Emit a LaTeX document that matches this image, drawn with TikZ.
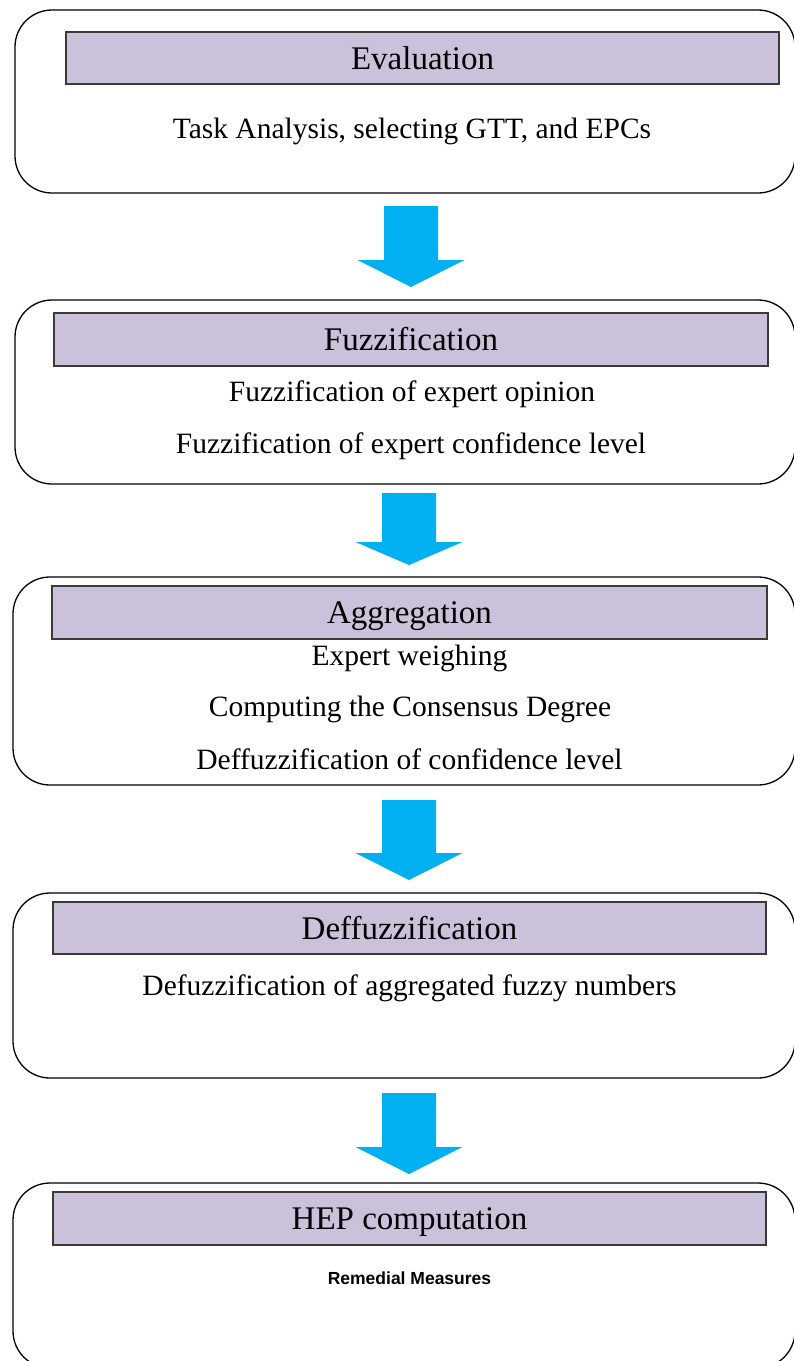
\documentclass[tikz,border=0pt]{standalone}
\usepackage{fontspec}
\setmainfont{Liberation Serif}
\newfontfamily\remfont{Liberation Sans}
\definecolor{hdrfill}{HTML}{CCC1DA}
\definecolor{arrfill}{HTML}{00B0F0}
\definecolor{hdrline}{HTML}{3A3A3A}
\newcommand\blockarr[5]{% name, center x, top, shoulder, tip
  \path[flowarrow] (#2-27,#3) coordinate (#1) -- (#2+27,#3) -- (#2+27,#4) -- (#2+53.5,#4)
    -- (#2,#5) -- (#2-53.5,#4) -- (#2-27,#4) -- cycle;}
\begin{document}
\begin{tikzpicture}[x=1pt,y=-1pt,
  outerbox/.style={draw=black,line width=1.3pt,rounded corners=37pt,fill=white,
    rectangle,inner sep=0pt},
  hdrbox/.style={draw=hdrline,line width=1.4pt,fill=hdrfill,rectangle,inner sep=0pt,
    font=\fontsize{33}{40}\selectfont,text height=22pt,text depth=0pt},
  bodytext/.style={anchor=base,inner sep=0pt,font=\fontsize{29.5}{35}\selectfont},
  remtext/.style={anchor=base,inner sep=0pt,font=\remfont\bfseries\fontsize{17.5}{20}\selectfont},
  flowarrow/.style={fill=arrfill,draw=none}]
\clip (0,0) rectangle (794,1361);
\fill[white] (0,0) rectangle (794,1361);

% Box 1
\node[outerbox,minimum width=780pt,minimum height=183pt] (b1) at (405,101.5) {};
\node[hdrbox,minimum width=713pt,minimum height=52pt] (h1) at (422.5,58) {Evaluation};
\node[bodytext] (t1) at (412,138) {Task Analysis, selecting GTT, and EPCs};

% Box 2
\node[outerbox,minimum width=780pt,minimum height=184pt] (b2) at (405,392) {};
\node[hdrbox,minimum width=714pt,minimum height=53pt] (h2) at (411,339.5) {Fuzzification};
\node[bodytext] (t2a) at (412,401) {Fuzzification of expert opinion};
\node[bodytext] (t2b) at (411,453) {Fuzzification of expert confidence level};

% Box 3
\node[outerbox,minimum width=782pt,minimum height=208pt] (b3) at (404,681) {};
\node[hdrbox,minimum width=715pt,minimum height=53pt] (h3) at (409.5,612.5) {Aggregation};
\node[bodytext] (t3a) at (409.5,665) {Expert weighing};
\node[bodytext] (t3b) at (410,716) {Computing the Consensus Degree};
\node[bodytext] (t3c) at (409.5,769) {Deffuzzification of confidence level};

% Box 4
\node[outerbox,minimum width=782pt,minimum height=185pt] (b4) at (404,985.5) {};
\node[hdrbox,minimum width=713pt,minimum height=52pt] (h4) at (409.5,928) {Deffuzzification};
\node[bodytext] (t4a) at (409.5,995) {Defuzzification of aggregated fuzzy numbers};

% Box 5
\node[outerbox,minimum width=782pt,minimum height=185pt] (b5) at (404,1275.5) {};
\node[hdrbox,minimum width=713pt,minimum height=53pt] (h5) at (409.5,1218.5) {HEP computation};
\node[remtext] (t5a) at (409.5,1284) {Remedial Measures};

% Block arrows between the boxes
\blockarr{a1}{411}{206}{260}{287}
\blockarr{a2}{409}{493}{542}{565}
\blockarr{a3}{409}{800}{853}{880}
\blockarr{a4}{409}{1093}{1147}{1174}
\end{tikzpicture}
\end{document}
